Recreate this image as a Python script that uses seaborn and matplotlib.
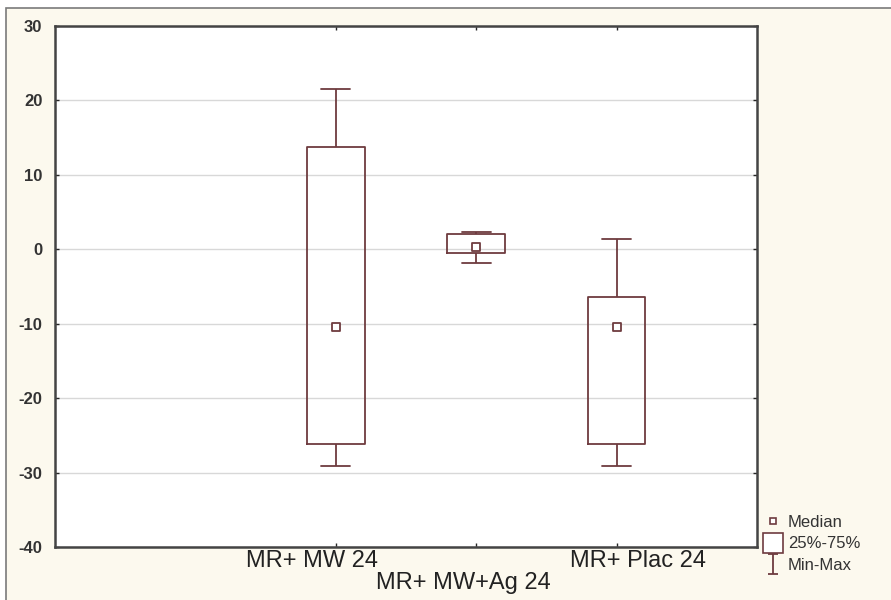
import numpy as np
import pandas as pd
import seaborn as sns
import matplotlib
matplotlib.use("Agg")
import matplotlib.pyplot as plt
from matplotlib.lines import Line2D
from matplotlib.path import Path
from matplotlib.patches import Rectangle
import matplotlib.transforms as mtransforms

# ---- data ----
groups = ["MR+ MW 24", "MR+ MW+Ag 24", "MR+ Plac 24"]
mins = [-29.1, -1.9, -29.1]
q1s = [-26.1, -0.45, -26.1]
medians = [-10.4, 0.3, -10.4]
q3s = [13.75, 2.1, -6.4]
maxs = [21.5, 2.3, 1.35]
yticks = [-40, -30, -20, -10, 0, 10, 20, 30]
legend_labels = ["Median", "25%-75%", "Min-Max"]

# five-number summaries -> values whose quartiles equal the summary
rows = []
for g, a, b, c, d, e in zip(groups, mins, q1s, medians, q3s, maxs):
    for v in (a, b, c, d, e):
        rows.append({"group": g, "value": v})
df = pd.DataFrame(rows)
med_df = pd.DataFrame({"group": groups, "value": medians})

sns.set_theme(style="white")
plt.rcParams["font.family"] = ["Liberation Sans", "DejaVu Sans"]

EDGE = "#6e3b3f"
fig = plt.figure(figsize=(8.91, 6.0), dpi=100)
fig.patch.set_facecolor("white")
# cream panel with thin frame (screenshot frame)
fig.add_artist(Rectangle((6 / 891, -0.1), 1.2, 1 - 8 / 600 + 0.1, transform=fig.transFigure,
                         facecolor="#fcf9ee", edgecolor="#7a7a7a", linewidth=1.2, zorder=-10))

ax = fig.add_axes([55 / 891, 53 / 600, 702 / 891, 521 / 600])
ax.set_facecolor("white")

sns.boxplot(data=df, x="group", y="value", order=groups, ax=ax, whis=(0, 100),
            width=0.41, fill=False, color=EDGE, linewidth=1.3,
            medianprops=dict(visible=False), showfliers=False)
sns.scatterplot(data=med_df, x="group", y="value", ax=ax, marker="s", s=28,
                facecolor="white", edgecolor=EDGE, linewidth=1.3, zorder=5, legend=False)

ax.set_xlim(-2, 3)
ax.set_ylim(-40, 30)
ax.set_yticks(yticks)
ax.set_yticklabels([str(t) for t in yticks], fontsize=12, fontweight="bold", color="#333333")
ax.yaxis.grid(True, color="#d8d8d8", linewidth=1.0)
ax.set_axisbelow(True)
ax.set_xlabel("")
ax.set_ylabel("")
ax.set_xticks([0, 1, 2])
ax.set_xticklabels([groups[0], "\n" + groups[1], groups[2]], fontsize=17, color="#222222",
                   linespacing=1.0)
ax.tick_params(axis="x", length=3, width=1, direction="in", pad=2, top=True, bottom=True)
ax.tick_params(axis="y", length=3, width=1, direction="in", pad=9, left=True, right=True)
for s in ax.spines.values():
    s.set_color("#444444")
    s.set_linewidth(1.8)

# shift category labels to match reference placement
offs = [-24, -13, 21]
for lab, dx in zip(ax.get_xticklabels(), offs):
    lab.set_transform(lab.get_transform() + mtransforms.ScaledTranslation(dx / 100, 0, fig.dpi_scale_trans))

# legend
ibeam = Path([(-0.5, 1), (0.5, 1), (0, 1), (0, -1), (-0.5, -1), (0.5, -1)],
             [Path.MOVETO, Path.LINETO, Path.MOVETO, Path.LINETO, Path.MOVETO, Path.LINETO])
handles = [
    Line2D([], [], linestyle="none", marker="s", markersize=5, markerfacecolor="white",
           markeredgecolor=EDGE, markeredgewidth=1.2),
    Line2D([], [], linestyle="none", marker="s", markersize=15, markerfacecolor="white",
           markeredgecolor=EDGE, markeredgewidth=1.2),
    Line2D([], [], linestyle="none", marker=ibeam, markersize=15, markerfacecolor="none",
           markeredgecolor=EDGE, markeredgewidth=1.3),
]
fig.legend(handles, legend_labels, loc="upper left", bbox_to_anchor=(752 / 891, 1 - 503 / 600),
           frameon=False, fontsize=12, handlelength=1.1, handletextpad=0.35,
           labelspacing=0.4, borderpad=0.2, labelcolor="#333333")

fig.savefig("out.png", dpi=100, facecolor=fig.get_facecolor())
